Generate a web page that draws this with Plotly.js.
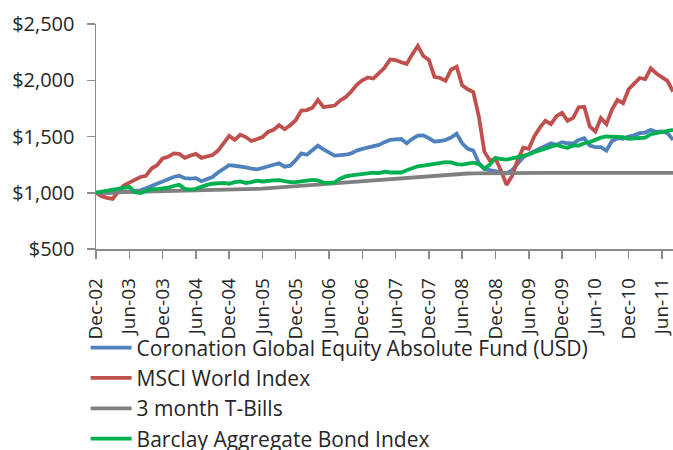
<!DOCTYPE html>
<html>
<head>
<meta charset="utf-8">
<script src="https://cdn.plot.ly/plotly-3.0.1.min.js"></script>
<style>html,body{margin:0;padding:0;background:#fff;overflow:hidden;width:673px;height:450px;}#chart{width:673px;height:480px;}</style>
</head>
<body>
<div id="chart"></div>
<script>
// Monthly values, Dec-02 (index 0) to Aug-11 (index 104), growth of $1,000
const seriesNames = [
  "Coronation Global Equity Absolute Fund (USD)",
  "MSCI World Index",
  "3 month T-Bills",
  "Barclay Aggregate Bond Index"
];
const coronation = [
  1000, 998, 995, 1000, 1005, 1008, 1012, 1015, 1022, 1040, 1060, 1085, 1105,
  1125, 1140, 1152, 1130, 1125, 1130, 1103, 1118, 1140, 1180, 1215, 1245,
  1240, 1235, 1225, 1215, 1208, 1220, 1235, 1250, 1262, 1232, 1240, 1290,
  1350, 1338, 1375, 1418, 1385, 1355, 1330, 1335, 1338, 1350, 1375, 1390,
  1400, 1410, 1425, 1450, 1470, 1475, 1478, 1440, 1480, 1508, 1510, 1485,
  1455, 1460, 1470, 1490, 1525, 1440, 1390, 1375, 1265, 1210, 1200, 1188,
  1180, 1172, 1200, 1260, 1315, 1345, 1370, 1395, 1420, 1440, 1425, 1450,
  1440, 1438, 1470, 1485, 1420, 1405, 1405, 1375, 1460, 1485, 1480, 1500,
  1510, 1530, 1535, 1560, 1540, 1545, 1530, 1470
];
const msciWorld = [
  1000, 970, 955, 945, 1010, 1065, 1090, 1115, 1140, 1150, 1215, 1245, 1305,
  1320, 1350, 1345, 1310, 1330, 1345, 1310, 1320, 1335, 1375, 1445, 1505,
  1470, 1515, 1495, 1460, 1475, 1495, 1540, 1560, 1600, 1565, 1600, 1645,
  1730, 1735, 1755, 1825, 1760, 1765, 1775, 1820, 1850, 1900, 1960, 2000,
  2025, 2015, 2060, 2110, 2185, 2180, 2160, 2145, 2230, 2305, 2215, 2180,
  2030, 2020, 1995, 2095, 2120, 1955, 1920, 1895, 1680, 1365, 1285, 1305,
  1195, 1070, 1150, 1290, 1400, 1390, 1500, 1580, 1640, 1610, 1680, 1710,
  1640, 1665, 1760, 1765, 1590, 1545, 1665, 1610, 1740, 1825, 1795, 1920,
  1970, 2020, 2010, 2105, 2060, 2030, 1995, 1900
];
const tBills = [
  1000, 1001, 1002, 1003, 1003, 1004, 1005, 1006, 1007, 1007, 1008, 1009, 1010,
  1011, 1012, 1013, 1014, 1015, 1016, 1017, 1018, 1019, 1020, 1022, 1024,
  1026, 1028, 1030, 1032, 1034, 1036, 1039, 1042, 1045, 1048, 1051, 1055,
  1059, 1063, 1067, 1071, 1075, 1079, 1083, 1087, 1091, 1095, 1099, 1103,
  1107, 1111, 1115, 1119, 1123, 1127, 1131, 1135, 1139, 1143, 1147, 1151,
  1154, 1157, 1160, 1163, 1166, 1169, 1171, 1172, 1173, 1174, 1175, 1176,
  1176, 1176, 1176, 1176, 1176, 1176, 1176, 1176, 1176, 1176, 1176, 1176,
  1176, 1176, 1176, 1176, 1176, 1176, 1176, 1176, 1176, 1177, 1177, 1177,
  1177, 1177, 1177, 1177, 1177, 1177, 1177, 1177
];
const barclayAgg = [
  1000, 1008, 1015, 1030, 1035, 1045, 1052, 1005, 998, 1015, 1033, 1033, 1035,
  1045, 1060, 1070, 1035, 1028, 1035, 1055, 1070, 1080, 1085, 1087, 1080,
  1095, 1100, 1087, 1095, 1108, 1100, 1101, 1110, 1112, 1100, 1095, 1095,
  1100, 1105, 1115, 1110, 1090, 1088, 1092, 1125, 1145, 1155, 1162, 1170,
  1176, 1178, 1175, 1188, 1180, 1176, 1180, 1200, 1218, 1235, 1242, 1250,
  1262, 1270, 1272, 1270, 1255, 1250, 1260, 1268, 1255, 1215, 1250, 1310,
  1300, 1295, 1305, 1315, 1325, 1340, 1360, 1375, 1395, 1410, 1425, 1410,
  1400, 1420, 1420, 1440, 1450, 1470, 1490, 1500, 1500, 1500, 1495, 1480,
  1485, 1490, 1490, 1520, 1530, 1535, 1545, 1560
];
const tickLabels = [
  "Dec-02", "Jun-03", "Dec-03", "Jun-04", "Dec-04", "Jun-05", "Dec-05", "Jun-06",
  "Dec-06", "Jun-07", "Dec-07", "Jun-08", "Dec-08", "Jun-09", "Dec-09", "Jun-10",
  "Dec-10", "Jun-11"
];
const yTickValues = [500, 1000, 1500, 2000, 2500];
const yTickLabels = ["$500", "$1,000", "$1,500", "$2,000", "$2,500"];

const monthIndex = coronation.map((_, i) => i);
const tickPositions = tickLabels.map((_, i) => i * 6);

const colors = ["#4F81BD", "#C0504D", "#808080", "#00B050"];
const allSeries = [coronation, msciWorld, tBills, barclayAgg];

const traces = allSeries.map((vals, k) => ({
  type: "scatter",
  mode: "lines",
  name: seriesNames[k],
  x: monthIndex,
  y: vals,
  line: {color: colors[k], width: 3.8},
  hoverinfo: "skip"
}));

const axisColor = "#8c8c8c";
const textColor = "#262626";
const fontFamily = "'Open Sans', 'Noto Sans', sans-serif";
const layout = {
  width: 673,
  height: 480,
  margin: {l: 96, r: 0, t: 24, b: 231, pad: 0},
  paper_bgcolor: "#ffffff",
  plot_bgcolor: "#ffffff",
  font: {family: fontFamily, size: 20, color: textColor},
  showlegend: true,
  xaxis: {
    range: [0, 104],
    tickmode: "array",
    tickvals: tickPositions,
    ticktext: tickLabels,
    tickangle: -90,
    showgrid: false,
    zeroline: false,
    showline: true,
    linecolor: axisColor,
    linewidth: 1.5,
    ticks: "outside",
    ticklen: 8,
    tickwidth: 1.5,
    tickcolor: axisColor,
    ticklabelstandoff: 12,
    ticklabeloverflow: "allow",
    tickfont: {family: fontFamily, size: 19, color: textColor},
    fixedrange: true
  },
  yaxis: {
    range: [500, 2500],
    tickmode: "array",
    tickvals: yTickValues,
    ticktext: yTickLabels,
    showgrid: false,
    zeroline: false,
    showline: true,
    linecolor: axisColor,
    linewidth: 1.5,
    ticks: "outside",
    ticklen: 8,
    tickwidth: 1.5,
    tickcolor: axisColor,
    ticklabelstandoff: 8,
    tickfont: {family: fontFamily, size: 20, color: textColor},
    fixedrange: true
  },
  legend: {
    x: -0.018,
    y: -0.349,
    xanchor: "left",
    yanchor: "top",
    orientation: "v",
    itemwidth: 41,
    bgcolor: "rgba(0,0,0,0)",
    borderwidth: 0,
    font: {family: fontFamily, size: 21, color: textColor},
    tracegroupgap: 0
  }
};

Plotly.newPlot("chart", traces, layout, {displayModeBar: false, staticPlot: true});
</script>
</body>
</html>
